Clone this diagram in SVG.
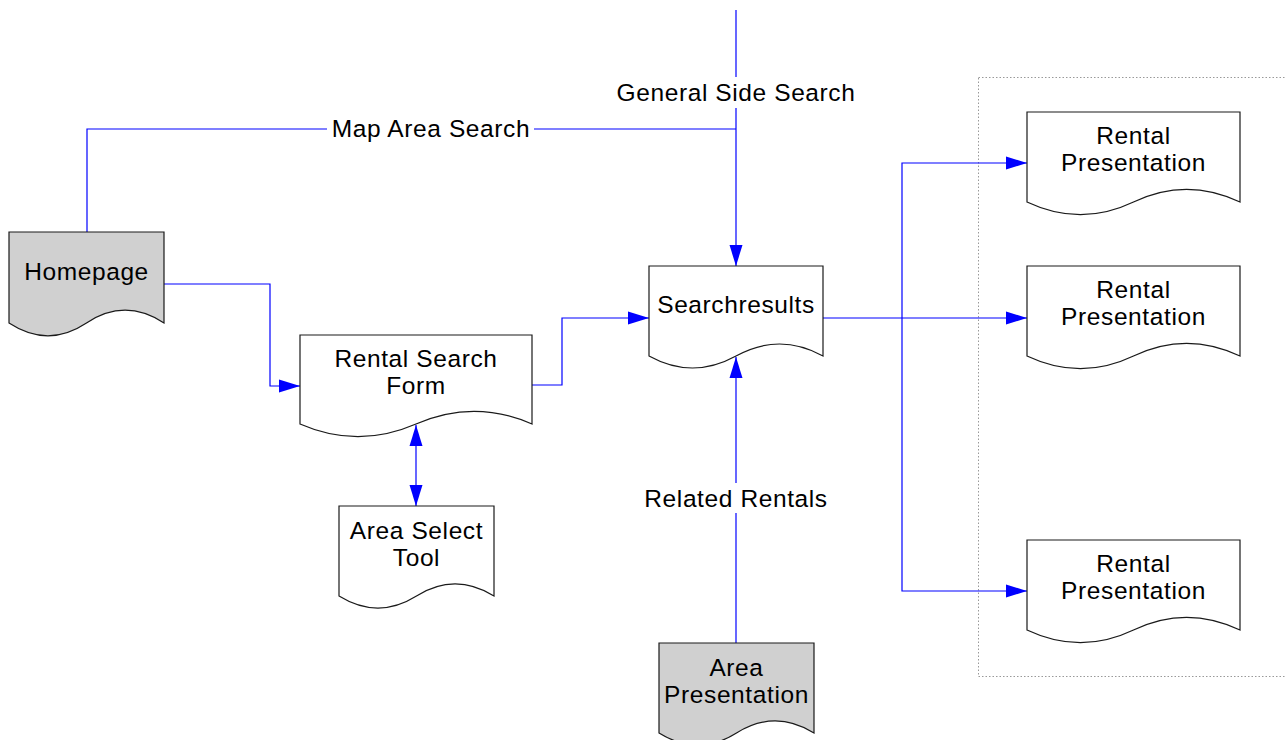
<svg xmlns="http://www.w3.org/2000/svg" width="1286" height="740" viewBox="0 0 1286 740">
<style>
.doc{stroke:#1a1a1a;stroke-width:1.2;fill:#ffffff}
.gray{fill:#d0d0d0}
.t{font-family:"Liberation Sans",Arial,sans-serif;font-size:24.5px;letter-spacing:0.6px;fill:#000;text-anchor:middle}
.c{stroke:#0000ff;stroke-width:1.2;fill:none}
.bg{fill:#ffffff}
</style>
<defs>
<marker id="arr" markerUnits="userSpaceOnUse" markerWidth="22" markerHeight="14" refX="21" refY="6.5" orient="auto-start-reverse" viewBox="0 0 22 13">
<path d="M0,0 L21,6.5 L0,13 Z" fill="#0000ff"/>
</marker>
</defs>
<rect x="978.5" y="77.5" width="340" height="599" fill="none" stroke="#999" stroke-width="1" stroke-dasharray="1.5,2"/>
<g id="connectors">
<path class="c" d="M87,232 V129 H736"/>
<path class="c" d="M736,10 V266" marker-end="url(#arr)"/>
<path class="c" d="M164,284 H270 V386 H300" marker-end="url(#arr)"/>
<path class="c" d="M532,385 H562 V318 H649" marker-end="url(#arr)"/>
<path class="c" d="M416,425 V506" marker-start="url(#arr)" marker-end="url(#arr)"/>
<path class="c" d="M736,643 V357" marker-end="url(#arr)"/>
<path class="c" d="M823,318 H1027" marker-end="url(#arr)"/>
<path class="c" d="M902,318 V163 H1027" marker-end="url(#arr)"/>
<path class="c" d="M902,318 V591 H1027" marker-end="url(#arr)"/>
<rect class="bg" x="327" y="115" width="207" height="28"/>
<text class="t" x="431" y="137">Map Area Search</text>
<rect class="bg" x="610" y="77" width="252" height="31"/>
<text class="t" x="736" y="101">General Side Search</text>
<rect class="bg" x="640" y="483" width="192" height="30"/>
<text class="t" x="736" y="507">Related Rentals</text>
</g>
<g id="homepage">
<path class="doc gray" d="M9,232 H164 V323 C138,306 112,306 86.5,323 C61,340 35,340 9,323 Z"/>
<text class="t" x="86.5" y="280">Homepage</text>
</g>
<g id="rental-search-form">
<path class="doc" d="M300,335 H532 V424 C493,407 455,407 416,424 C377,441 339,441 300,424 Z"/>
<text class="t" x="416" y="367">Rental Search</text>
<text class="t" x="416" y="394">Form</text>
</g>
<g id="area-select-tool">
<path class="doc" d="M339,506 H494 V596 C468,580 442,580 416.5,596 C391,612 365,612 339,596 Z"/>
<text class="t" x="416.5" y="539">Area Select</text>
<text class="t" x="416.5" y="566">Tool</text>
</g>
<g id="searchresults">
<path class="doc" d="M649,266 H823 V356 C794,340 765,340 736,356 C707,372 678,372 649,356 Z"/>
<text class="t" x="736" y="313">Searchresults</text>
</g>
<g id="area-presentation">
<path class="doc gray" d="M659,643 H814 V733 C788,717 762,717 736.5,733 C711,749 685,749 659,733 Z"/>
<text class="t" x="736.5" y="676">Area</text>
<text class="t" x="736.5" y="703">Presentation</text>
</g>
<g id="rental-presentation-1">
<path class="doc" d="M1027,112 H1240 V202 C1204,185 1169,185 1133.5,202 C1098,219 1063,219 1027,202 Z"/>
<text class="t" x="1133.5" y="144">Rental</text>
<text class="t" x="1133.5" y="171">Presentation</text>
</g>
<g id="rental-presentation-2">
<path class="doc" d="M1027,266 H1240 V356 C1204,339 1169,339 1133.5,356 C1098,373 1063,373 1027,356 Z"/>
<text class="t" x="1133.5" y="298">Rental</text>
<text class="t" x="1133.5" y="325">Presentation</text>
</g>
<g id="rental-presentation-3">
<path class="doc" d="M1027,540 H1240 V630 C1204,613 1169,613 1133.5,630 C1098,647 1063,647 1027,630 Z"/>
<text class="t" x="1133.5" y="572">Rental</text>
<text class="t" x="1133.5" y="599">Presentation</text>
</g>
</svg>
